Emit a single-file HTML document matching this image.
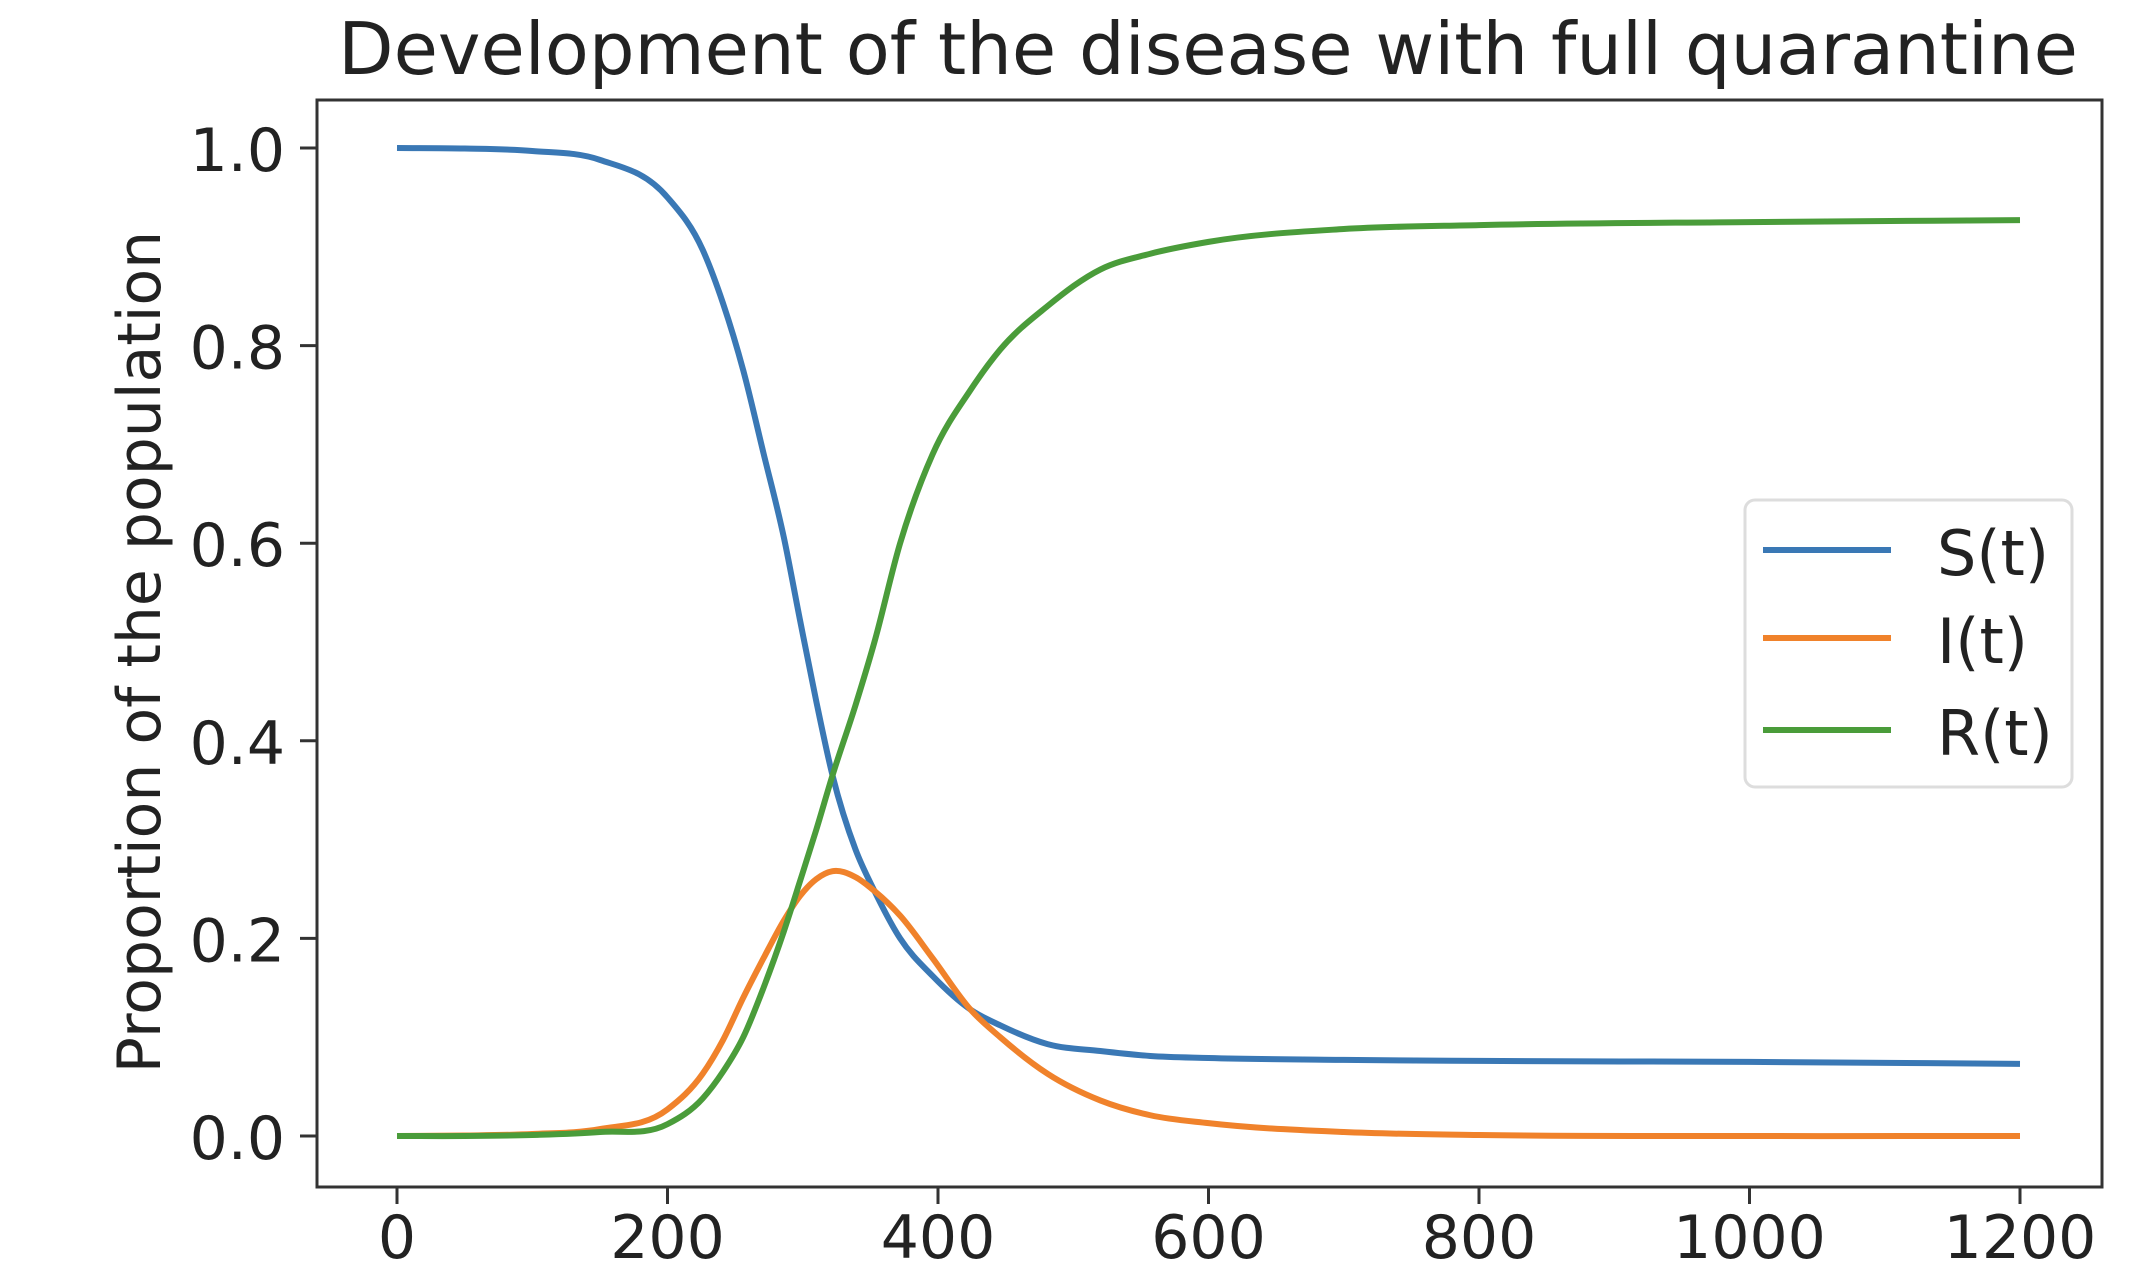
<!DOCTYPE html>
<html><head><meta charset="utf-8"><style>
html,body{margin:0;padding:0;background:#fff;}
svg{display:block;font-family:"DejaVu Sans","Liberation Sans",sans-serif;}
</style></head><body>
<svg id="chart" width="2150" height="1276" viewBox="0 0 2150 1276">
<rect width="2150" height="1276" fill="#fff"/>
<text x="1208" y="74" font-size="72" text-anchor="middle" fill="#222">Development of the disease with full quarantine</text>
<text transform="translate(160,652) rotate(-90)" font-size="60" text-anchor="middle" fill="#222">Proportion of the population</text>
<g id="plot"></g>
<rect x="317" y="100" width="1785" height="1087" fill="none" stroke="#333" stroke-width="3"/>
<g id="xticks"></g>
<g id="yticks"></g>
<g>
<rect x="1745" y="500" width="327" height="287" rx="10" fill="#fff" fill-opacity="0.8" stroke="#ddd" stroke-width="3"/>
<line x1="1763" y1="550" x2="1891" y2="550" stroke="#3a78b5" stroke-width="6"/>
<text x="1937" y="575" font-size="62" fill="#222">S(t)</text>
<line x1="1763" y1="638" x2="1891" y2="638" stroke="#f0822b" stroke-width="6"/>
<text x="1937" y="663" font-size="62" fill="#222">I(t)</text>
<line x1="1763" y1="730" x2="1891" y2="730" stroke="#4a9c3a" stroke-width="6"/>
<text x="1937" y="755" font-size="62" fill="#222">R(t)</text>
</g>
</svg>
<script>
const times   = [0,50,100,150,200,226,241,256,271,286,298,310,322,339,353,372,396,424,446,481,520,557,600,700,800,1000,1200];
const sValues = [1.0,0.9995,0.997,0.988,0.950,0.897,0.843,0.775,0.691,0.606,0.522,0.44,0.365,0.29,0.248,0.20,0.162,0.128,0.112,0.093,0.086,0.081,0.079,0.077,0.076,0.075,0.073];
const iValues = [0,0.0005,0.002,0.007,0.027,0.063,0.097,0.14,0.18,0.218,0.243,0.26,0.268,0.262,0.248,0.223,0.18,0.128,0.10,0.063,0.036,0.021,0.013,0.004,0.001,0,0];
const rValues = [0,0,0.001,0.004,0.012,0.038,0.065,0.10,0.15,0.207,0.258,0.31,0.365,0.436,0.50,0.60,0.69,0.755,0.796,0.84,0.877,0.893,0.905,0.918,0.922,0.925,0.927];
const xTickValues = [0,200,400,600,800,1000,1200];
const yTickValues = [0.0,0.2,0.4,0.6,0.8,1.0];
const yTickLabels = ["0.0","0.2","0.4","0.6","0.8","1.0"];

const NS = "http://www.w3.org/2000/svg";
function xScale(t){return 397 + t*(1623/1200);}
function yScale(v){return 1136 - v*988;}

function pathFor(vals){
  const n = times.length;
  const xs = times.map(xScale), ys = vals.map(yScale);
  const d = [], h = [], m = new Array(n);
  for(let i=0;i<n-1;i++){ h.push(xs[i+1]-xs[i]); d.push((ys[i+1]-ys[i])/h[i]); }
  m[0]=d[0]; m[n-1]=d[n-2];
  for(let i=1;i<n-1;i++) m[i]=(d[i-1]*h[i]+d[i]*h[i-1])/(h[i-1]+h[i]);
  let p = "M"+xs[0]+","+ys[0];
  for(let i=0;i<n-1;i++){
    const k=h[i]/3;
    p += " C"+(xs[i]+k)+","+(ys[i]+m[i]*k)+" "+(xs[i+1]-k)+","+(ys[i+1]-m[i+1]*k)+" "+xs[i+1]+","+ys[i+1];
  }
  return p;
}
const plot = document.getElementById("plot");
[["series-s",sValues,"#3a78b5"],["series-i",iValues,"#f0822b"],["series-r",rValues,"#4a9c3a"]].forEach(s=>{
  const p = document.createElementNS(NS,"path");
  p.setAttribute("d", pathFor(s[1]));
  p.setAttribute("fill","none");
  p.setAttribute("stroke", s[2]);
  p.setAttribute("stroke-width","6");
  p.setAttribute("stroke-linejoin","round");
  
  
  plot.appendChild(p);
});
const xg = document.getElementById("xticks");
xTickValues.forEach(t=>{
  const l = document.createElementNS(NS,"line");
  l.setAttribute("x1",xScale(t)); l.setAttribute("x2",xScale(t));
  l.setAttribute("y1",1187); l.setAttribute("y2",1204);
  l.setAttribute("stroke","#333"); l.setAttribute("stroke-width","3");
  
  
  xg.appendChild(l);
  const tx = document.createElementNS(NS,"text");
  tx.setAttribute("x",xScale(t)); tx.setAttribute("y",1258);
  tx.setAttribute("font-size","60"); tx.setAttribute("text-anchor","middle"); tx.setAttribute("fill","#222");
  tx.textContent = String(t);
  
  
  xg.appendChild(tx);
});
const yg = document.getElementById("yticks");
yTickValues.forEach((v,i)=>{
  const l = document.createElementNS(NS,"line");
  l.setAttribute("x1",300); l.setAttribute("x2",317);
  l.setAttribute("y1",yScale(v)); l.setAttribute("y2",yScale(v));
  l.setAttribute("stroke","#333"); l.setAttribute("stroke-width","3");
  
  
  yg.appendChild(l);
  const tx = document.createElementNS(NS,"text");
  tx.setAttribute("x",285); tx.setAttribute("y",yScale(v)+23);
  tx.setAttribute("font-size","60"); tx.setAttribute("text-anchor","end"); tx.setAttribute("fill","#222");
  tx.textContent = yTickLabels[i];
  
  
  yg.appendChild(tx);
});
</script>
</body></html>
